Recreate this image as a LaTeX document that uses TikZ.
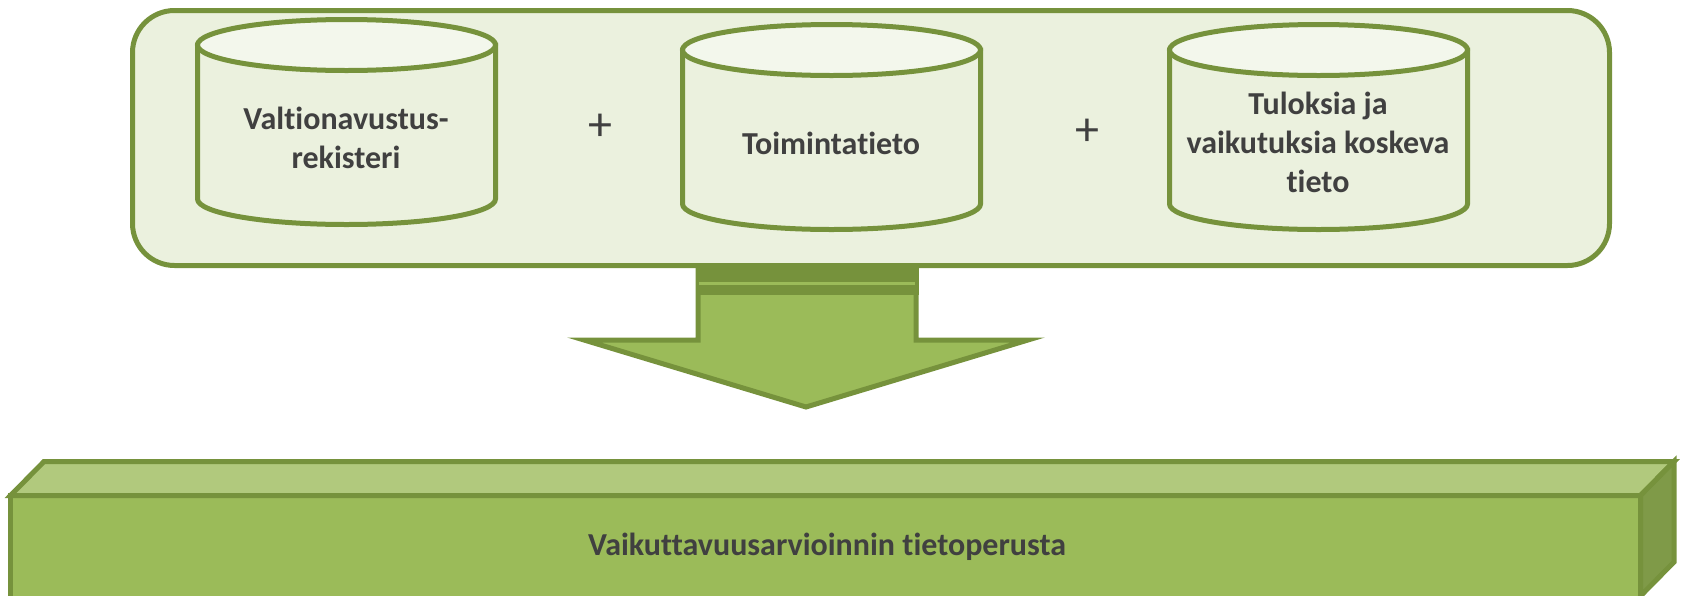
\documentclass[tikz,border=0pt]{standalone}
\usepackage{fontspec}
\setmainfont{Carlito}[Ligatures={NoCommon,NoRequired,NoContextual}]
\definecolor{bord}{HTML}{76923C}
\definecolor{boxfill}{HTML}{EBF1DE}
\definecolor{cyltop}{HTML}{F3F7EC}
\definecolor{olive}{HTML}{9BBB59}
\definecolor{olivetop}{HTML}{B1C97D}
\definecolor{oliveside}{HTML}{7F9A48}
\definecolor{txt}{HTML}{404040}
\tikzset{
  outline/.style={draw=bord, line width=5pt, line join=miter},
  label/.style={text=txt, font=\fontsize{32}{39}\selectfont\bfseries, align=center, inner sep=0pt},
  plussign/.style={text=txt, font=\fontsize{48}{48}\selectfont, inner sep=0pt},
}
\begin{document}
\begin{tikzpicture}[x=1pt,y=-1pt]
\useasboundingbox (0,0) rectangle (1684,595);
\clip (0,0) rectangle (1684,595);

% arrow
\draw[outline, fill=olive] (698,266) -- (698,340) -- (584,340) -- (806,407) -- (1028,340) -- (916,340) -- (916,266);

% container
\draw[outline, fill=boxfill, rounded corners=42pt] (132.5,10.5) rectangle (1609.5,265.5);

% arrow band
\fill[bord] (695.5,268) rectangle (918.5,295);
\draw[olive, line width=3pt] (699,283) -- (915,283);

% cylinders
\foreach \cx/\yt/\yb in {346.5/45/199, 831.5/50/204, 1318.5/50/204}{
  \draw[outline, fill=boxfill] (\cx-149,\yt) -- (\cx-149,\yb)
     arc[start angle=180, end angle=0, x radius=149, y radius=25.5]
     -- (\cx+149,\yt) -- cycle;
  \draw[outline, fill=cyltop] (\cx,\yt) ellipse [x radius=149, y radius=25.5];
}
\node[label] (reg) at (346,138) {Valtionavustus-\\rekisteri};
\node[label] (toim) at (831,143) {Toimintatieto};
\node[label] (tul) at (1318,142) {Tuloksia ja\\vaikutuksia koskeva\\tieto};
\node[plussign] (p1) at (600,127) {+};
\node[plussign] (p2) at (1087,132) {+};

% base block
\draw[outline, fill=olive] (10.5,495.5) rectangle (1640.5,620);
\draw[outline, fill=olivetop] (10.5,495.5) -- (44,461.5) -- (1674,461.5) -- (1640.5,495.5) -- cycle;
\draw[outline, fill=oliveside] (1640.5,495.5) -- (1674,461.5) -- (1674,562) -- (1640.5,596) -- cycle;
\node[label] (base) at (827,547) {Vaikuttavuusarvioinnin tietoperusta};
\end{tikzpicture}
\end{document}
